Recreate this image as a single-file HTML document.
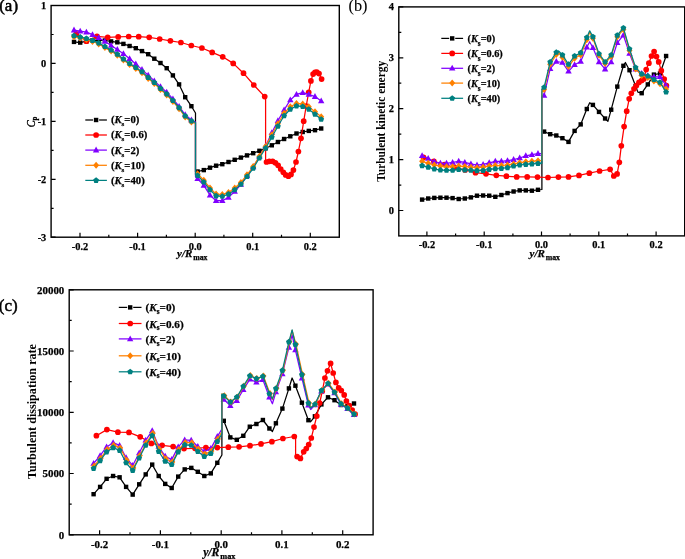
<!DOCTYPE html><html><head><meta charset="utf-8"><title>chart</title><style>
html,body{margin:0;padding:0;background:#fff;}svg{display:block;will-change:transform;}
text{font-family:"Liberation Serif",serif;fill:#000;}
.tk,.lg{font-weight:bold;stroke:#000;stroke-width:0.25px;}.bi{font-weight:bold;font-style:italic;stroke:#000;stroke-width:0.25px;}.yt{font-weight:bold;}.pl{font-size:17px;stroke:#000;stroke-width:0.5px;}
</style></head><body>
<svg width="685" height="559" viewBox="0 0 685 559">
<rect width="685" height="559" fill="#fff"/>
<polyline points="74,41.9 80.2,42.6 86.4,41.2 92.5,40.3 98.7,40.2 104.9,40.5 111.1,41.4 117.3,42.3 123.4,43.9 129.6,46 135.8,48.2 142,51.1 148.2,54.2 154.3,58.7 160.5,63 166.7,68.2 172.9,75.4 179.1,84.4 185.2,97.2 191.4,106.2 195.5,113 195.5,172 197.6,171.5 203.8,170.1 210,167.7 216.1,165.7 222.3,164.2 228.5,162 234.7,159.8 240.9,157.6 247,155.4 253.2,153.2 259.4,150.8 265.6,148.2 271.8,145.3 277.9,142 284.1,139 290.3,136.3 296.5,133.5 302.7,132 308.8,130.9 315,130.2 321.2,128.5" fill="none" stroke="#000000" stroke-width="1.25" stroke-linejoin="round"/>
<rect x="71.8" y="39.7" width="4.4" height="4.4" fill="#000000"/><rect x="78" y="40.4" width="4.4" height="4.4" fill="#000000"/><rect x="84.2" y="39" width="4.4" height="4.4" fill="#000000"/><rect x="90.3" y="38.1" width="4.4" height="4.4" fill="#000000"/><rect x="96.5" y="38" width="4.4" height="4.4" fill="#000000"/><rect x="102.7" y="38.3" width="4.4" height="4.4" fill="#000000"/><rect x="108.9" y="39.2" width="4.4" height="4.4" fill="#000000"/><rect x="115.1" y="40.1" width="4.4" height="4.4" fill="#000000"/><rect x="121.2" y="41.7" width="4.4" height="4.4" fill="#000000"/><rect x="127.4" y="43.8" width="4.4" height="4.4" fill="#000000"/><rect x="133.6" y="46" width="4.4" height="4.4" fill="#000000"/><rect x="139.8" y="48.9" width="4.4" height="4.4" fill="#000000"/><rect x="146" y="52" width="4.4" height="4.4" fill="#000000"/><rect x="152.1" y="56.5" width="4.4" height="4.4" fill="#000000"/><rect x="158.3" y="60.8" width="4.4" height="4.4" fill="#000000"/><rect x="164.5" y="66" width="4.4" height="4.4" fill="#000000"/><rect x="170.7" y="73.2" width="4.4" height="4.4" fill="#000000"/><rect x="176.9" y="82.2" width="4.4" height="4.4" fill="#000000"/><rect x="183" y="95" width="4.4" height="4.4" fill="#000000"/><rect x="189.2" y="104" width="4.4" height="4.4" fill="#000000"/><rect x="195.4" y="169.3" width="4.4" height="4.4" fill="#000000"/><rect x="201.6" y="167.9" width="4.4" height="4.4" fill="#000000"/><rect x="207.8" y="165.5" width="4.4" height="4.4" fill="#000000"/><rect x="213.9" y="163.5" width="4.4" height="4.4" fill="#000000"/><rect x="220.1" y="162" width="4.4" height="4.4" fill="#000000"/><rect x="226.3" y="159.8" width="4.4" height="4.4" fill="#000000"/><rect x="232.5" y="157.6" width="4.4" height="4.4" fill="#000000"/><rect x="238.7" y="155.4" width="4.4" height="4.4" fill="#000000"/><rect x="244.8" y="153.2" width="4.4" height="4.4" fill="#000000"/><rect x="251" y="151" width="4.4" height="4.4" fill="#000000"/><rect x="257.2" y="148.6" width="4.4" height="4.4" fill="#000000"/><rect x="263.4" y="146" width="4.4" height="4.4" fill="#000000"/><rect x="269.6" y="143.1" width="4.4" height="4.4" fill="#000000"/><rect x="275.7" y="139.8" width="4.4" height="4.4" fill="#000000"/><rect x="281.9" y="136.8" width="4.4" height="4.4" fill="#000000"/><rect x="288.1" y="134.1" width="4.4" height="4.4" fill="#000000"/><rect x="294.3" y="131.3" width="4.4" height="4.4" fill="#000000"/><rect x="300.5" y="129.8" width="4.4" height="4.4" fill="#000000"/><rect x="306.6" y="128.7" width="4.4" height="4.4" fill="#000000"/><rect x="312.8" y="128" width="4.4" height="4.4" fill="#000000"/><rect x="319" y="126.3" width="4.4" height="4.4" fill="#000000"/>
<polyline points="76.4,33.8 86.5,41.2 97,36.4 107.7,37.3 118.2,36.9 128.7,36.5 138.7,36.7 149.2,37.3 159.7,39 170.4,40.8 180.9,42.5 191.3,45.5 201.9,48 212.2,52.4 222.7,56.8 233.2,63.4 243.5,73.2 253.8,85 264.7,96.6 265.6,97.5 265.6,161.5 266.5,162 269.3,161.3 272.6,161.3 275.4,162.8 278.1,165.3 280.7,169 283.3,172.3 285.7,174.9 288.4,176.2 291,174.4 293.4,170.1 296,162 298.4,151.5 301,138.3 303.7,121.2 306.2,106 308.7,92.3 310.9,80.9 313.1,74.1 315,72.3 316.8,72.1 319,73.6 321.6,79.1" fill="none" stroke="#ff0000" stroke-width="1.25" stroke-linejoin="round"/>
<circle cx="76.4" cy="33.8" r="2.85" fill="#ff0000"/><circle cx="86.5" cy="41.2" r="2.85" fill="#ff0000"/><circle cx="97" cy="36.4" r="2.85" fill="#ff0000"/><circle cx="107.7" cy="37.3" r="2.85" fill="#ff0000"/><circle cx="118.2" cy="36.9" r="2.85" fill="#ff0000"/><circle cx="128.7" cy="36.5" r="2.85" fill="#ff0000"/><circle cx="138.7" cy="36.7" r="2.85" fill="#ff0000"/><circle cx="149.2" cy="37.3" r="2.85" fill="#ff0000"/><circle cx="159.7" cy="39" r="2.85" fill="#ff0000"/><circle cx="170.4" cy="40.8" r="2.85" fill="#ff0000"/><circle cx="180.9" cy="42.5" r="2.85" fill="#ff0000"/><circle cx="191.3" cy="45.5" r="2.85" fill="#ff0000"/><circle cx="201.9" cy="48" r="2.85" fill="#ff0000"/><circle cx="212.2" cy="52.4" r="2.85" fill="#ff0000"/><circle cx="222.7" cy="56.8" r="2.85" fill="#ff0000"/><circle cx="233.2" cy="63.4" r="2.85" fill="#ff0000"/><circle cx="243.5" cy="73.2" r="2.85" fill="#ff0000"/><circle cx="253.8" cy="85" r="2.85" fill="#ff0000"/><circle cx="264.7" cy="96.6" r="2.85" fill="#ff0000"/><circle cx="266.5" cy="162" r="2.85" fill="#ff0000"/><circle cx="269.3" cy="161.3" r="2.85" fill="#ff0000"/><circle cx="272.6" cy="161.3" r="2.85" fill="#ff0000"/><circle cx="275.4" cy="162.8" r="2.85" fill="#ff0000"/><circle cx="278.1" cy="165.3" r="2.85" fill="#ff0000"/><circle cx="280.7" cy="169" r="2.85" fill="#ff0000"/><circle cx="283.3" cy="172.3" r="2.85" fill="#ff0000"/><circle cx="285.7" cy="174.9" r="2.85" fill="#ff0000"/><circle cx="288.4" cy="176.2" r="2.85" fill="#ff0000"/><circle cx="291" cy="174.4" r="2.85" fill="#ff0000"/><circle cx="293.4" cy="170.1" r="2.85" fill="#ff0000"/><circle cx="296" cy="162" r="2.85" fill="#ff0000"/><circle cx="298.4" cy="151.5" r="2.85" fill="#ff0000"/><circle cx="301" cy="138.3" r="2.85" fill="#ff0000"/><circle cx="303.7" cy="121.2" r="2.85" fill="#ff0000"/><circle cx="306.2" cy="106" r="2.85" fill="#ff0000"/><circle cx="308.7" cy="92.3" r="2.85" fill="#ff0000"/><circle cx="310.9" cy="80.9" r="2.85" fill="#ff0000"/><circle cx="313.1" cy="74.1" r="2.85" fill="#ff0000"/><circle cx="315" cy="72.3" r="2.85" fill="#ff0000"/><circle cx="316.8" cy="72.1" r="2.85" fill="#ff0000"/><circle cx="319" cy="73.6" r="2.85" fill="#ff0000"/><circle cx="321.6" cy="79.1" r="2.85" fill="#ff0000"/>
<polyline points="74,30.1 80.2,31.2 86.4,32.2 92.5,34.7 98.7,37.8 104.9,41.5 111.1,45.4 117.3,49.5 123.4,53.8 129.6,58.7 135.8,63.9 142,69.6 148.2,75.2 154.3,80.9 160.5,86.7 166.7,92.2 172.9,98.9 179.1,106.4 185.2,114.8 191.4,120 195.5,122 195.5,177 197.6,178.8 203.8,185.4 210,195.2 216.1,200.7 222.3,200.7 228.5,197.4 234.7,191.5 240.9,184.5 247,176 253.2,167 259.4,156.5 265.6,146 271.8,132.8 277.9,120.8 284.1,109.9 290.3,100 296.5,94.4 302.7,92.7 308.8,94.4 315,96.6 321.2,101" fill="none" stroke="#8000ff" stroke-width="1.25" stroke-linejoin="round"/>
<polygon points="74,26.6 70.8,32.4 77.2,32.4" fill="#8000ff"/><polygon points="80.2,27.7 77,33.5 83.4,33.5" fill="#8000ff"/><polygon points="86.4,28.7 83.2,34.5 89.6,34.5" fill="#8000ff"/><polygon points="92.5,31.2 89.3,37 95.7,37" fill="#8000ff"/><polygon points="98.7,34.3 95.5,40.1 101.9,40.1" fill="#8000ff"/><polygon points="104.9,38 101.7,43.8 108.1,43.8" fill="#8000ff"/><polygon points="111.1,41.9 107.9,47.7 114.3,47.7" fill="#8000ff"/><polygon points="117.3,46 114.1,51.8 120.5,51.8" fill="#8000ff"/><polygon points="123.4,50.3 120.2,56.1 126.6,56.1" fill="#8000ff"/><polygon points="129.6,55.2 126.4,61 132.8,61" fill="#8000ff"/><polygon points="135.8,60.4 132.6,66.2 139,66.2" fill="#8000ff"/><polygon points="142,66.1 138.8,71.9 145.2,71.9" fill="#8000ff"/><polygon points="148.2,71.7 145,77.5 151.4,77.5" fill="#8000ff"/><polygon points="154.3,77.4 151.1,83.2 157.5,83.2" fill="#8000ff"/><polygon points="160.5,83.2 157.3,89 163.7,89" fill="#8000ff"/><polygon points="166.7,88.7 163.5,94.5 169.9,94.5" fill="#8000ff"/><polygon points="172.9,95.4 169.7,101.2 176.1,101.2" fill="#8000ff"/><polygon points="179.1,102.9 175.9,108.7 182.3,108.7" fill="#8000ff"/><polygon points="185.2,111.3 182,117.1 188.4,117.1" fill="#8000ff"/><polygon points="191.4,116.5 188.2,122.3 194.6,122.3" fill="#8000ff"/><polygon points="197.6,175.3 194.4,181.1 200.8,181.1" fill="#8000ff"/><polygon points="203.8,181.9 200.6,187.7 207,187.7" fill="#8000ff"/><polygon points="210,191.7 206.8,197.5 213.2,197.5" fill="#8000ff"/><polygon points="216.1,197.2 212.9,203 219.3,203" fill="#8000ff"/><polygon points="222.3,197.2 219.1,203 225.5,203" fill="#8000ff"/><polygon points="228.5,193.9 225.3,199.7 231.7,199.7" fill="#8000ff"/><polygon points="234.7,188 231.5,193.8 237.9,193.8" fill="#8000ff"/><polygon points="240.9,181 237.7,186.8 244.1,186.8" fill="#8000ff"/><polygon points="247,172.5 243.8,178.3 250.2,178.3" fill="#8000ff"/><polygon points="253.2,163.5 250,169.3 256.4,169.3" fill="#8000ff"/><polygon points="259.4,153 256.2,158.8 262.6,158.8" fill="#8000ff"/><polygon points="265.6,142.5 262.4,148.3 268.8,148.3" fill="#8000ff"/><polygon points="271.8,129.3 268.6,135.1 275,135.1" fill="#8000ff"/><polygon points="277.9,117.3 274.7,123.1 281.1,123.1" fill="#8000ff"/><polygon points="284.1,106.4 280.9,112.2 287.3,112.2" fill="#8000ff"/><polygon points="290.3,96.5 287.1,102.3 293.5,102.3" fill="#8000ff"/><polygon points="296.5,90.9 293.3,96.7 299.7,96.7" fill="#8000ff"/><polygon points="302.7,89.2 299.5,95 305.9,95" fill="#8000ff"/><polygon points="308.8,90.9 305.6,96.7 312,96.7" fill="#8000ff"/><polygon points="315,93.1 311.8,98.9 318.2,98.9" fill="#8000ff"/><polygon points="321.2,97.5 318,103.3 324.4,103.3" fill="#8000ff"/>
<polyline points="74,36.7 80.2,38.1 86.4,39.4 92.5,41.4 98.7,43.9 104.9,47.6 111.1,51.1 117.3,55.2 123.4,59.9 129.6,64.5 135.8,68.6 142,72.7 148.2,78.4 154.3,83.4 160.5,89.5 166.7,94.9 172.9,101.5 179.1,108.7 185.2,116.9 191.4,122 195.5,123.5 195.5,172.2 197.6,173.7 203.8,180.3 210,188 216.1,194.1 222.3,194.5 228.5,192.4 234.7,188 240.9,182.5 247,174.8 253.2,166.5 259.4,156.2 265.6,146.4 271.8,134.7 277.9,123.8 284.1,113.3 290.3,106.7 296.5,103.4 302.7,104.1 308.8,106.7 315,111.7 321.2,116.8" fill="none" stroke="#ff8000" stroke-width="1.25" stroke-linejoin="round"/>
<polygon points="74,33.2 77,36.7 74,40.2 71,36.7" fill="#ff8000"/><polygon points="80.2,34.6 83.2,38.1 80.2,41.6 77.2,38.1" fill="#ff8000"/><polygon points="86.4,35.9 89.4,39.4 86.4,42.9 83.4,39.4" fill="#ff8000"/><polygon points="92.5,37.9 95.5,41.4 92.5,44.9 89.5,41.4" fill="#ff8000"/><polygon points="98.7,40.4 101.7,43.9 98.7,47.4 95.7,43.9" fill="#ff8000"/><polygon points="104.9,44.1 107.9,47.6 104.9,51.1 101.9,47.6" fill="#ff8000"/><polygon points="111.1,47.6 114.1,51.1 111.1,54.6 108.1,51.1" fill="#ff8000"/><polygon points="117.3,51.7 120.3,55.2 117.3,58.7 114.3,55.2" fill="#ff8000"/><polygon points="123.4,56.4 126.4,59.9 123.4,63.4 120.4,59.9" fill="#ff8000"/><polygon points="129.6,61 132.6,64.5 129.6,68 126.6,64.5" fill="#ff8000"/><polygon points="135.8,65.1 138.8,68.6 135.8,72.1 132.8,68.6" fill="#ff8000"/><polygon points="142,69.2 145,72.7 142,76.2 139,72.7" fill="#ff8000"/><polygon points="148.2,74.9 151.2,78.4 148.2,81.9 145.2,78.4" fill="#ff8000"/><polygon points="154.3,79.9 157.3,83.4 154.3,86.9 151.3,83.4" fill="#ff8000"/><polygon points="160.5,86 163.5,89.5 160.5,93 157.5,89.5" fill="#ff8000"/><polygon points="166.7,91.4 169.7,94.9 166.7,98.4 163.7,94.9" fill="#ff8000"/><polygon points="172.9,98 175.9,101.5 172.9,105 169.9,101.5" fill="#ff8000"/><polygon points="179.1,105.2 182.1,108.7 179.1,112.2 176.1,108.7" fill="#ff8000"/><polygon points="185.2,113.4 188.2,116.9 185.2,120.4 182.2,116.9" fill="#ff8000"/><polygon points="191.4,118.5 194.4,122 191.4,125.5 188.4,122" fill="#ff8000"/><polygon points="197.6,170.2 200.6,173.7 197.6,177.2 194.6,173.7" fill="#ff8000"/><polygon points="203.8,176.8 206.8,180.3 203.8,183.8 200.8,180.3" fill="#ff8000"/><polygon points="210,184.5 213,188 210,191.5 207,188" fill="#ff8000"/><polygon points="216.1,190.6 219.1,194.1 216.1,197.6 213.1,194.1" fill="#ff8000"/><polygon points="222.3,191 225.3,194.5 222.3,198 219.3,194.5" fill="#ff8000"/><polygon points="228.5,188.9 231.5,192.4 228.5,195.9 225.5,192.4" fill="#ff8000"/><polygon points="234.7,184.5 237.7,188 234.7,191.5 231.7,188" fill="#ff8000"/><polygon points="240.9,179 243.9,182.5 240.9,186 237.9,182.5" fill="#ff8000"/><polygon points="247,171.3 250,174.8 247,178.3 244,174.8" fill="#ff8000"/><polygon points="253.2,163 256.2,166.5 253.2,170 250.2,166.5" fill="#ff8000"/><polygon points="259.4,152.7 262.4,156.2 259.4,159.7 256.4,156.2" fill="#ff8000"/><polygon points="265.6,142.9 268.6,146.4 265.6,149.9 262.6,146.4" fill="#ff8000"/><polygon points="271.8,131.2 274.8,134.7 271.8,138.2 268.8,134.7" fill="#ff8000"/><polygon points="277.9,120.3 280.9,123.8 277.9,127.3 274.9,123.8" fill="#ff8000"/><polygon points="284.1,109.8 287.1,113.3 284.1,116.8 281.1,113.3" fill="#ff8000"/><polygon points="290.3,103.2 293.3,106.7 290.3,110.2 287.3,106.7" fill="#ff8000"/><polygon points="296.5,99.9 299.5,103.4 296.5,106.9 293.5,103.4" fill="#ff8000"/><polygon points="302.7,100.6 305.7,104.1 302.7,107.6 299.7,104.1" fill="#ff8000"/><polygon points="308.8,103.2 311.8,106.7 308.8,110.2 305.8,106.7" fill="#ff8000"/><polygon points="315,108.2 318,111.7 315,115.2 312,111.7" fill="#ff8000"/><polygon points="321.2,113.3 324.2,116.8 321.2,120.3 318.2,116.8" fill="#ff8000"/>
<polyline points="74,35.7 80.2,37.1 86.4,38.4 92.5,40.4 98.7,42.9 104.9,46.6 111.1,50.1 117.3,54.2 123.4,58.9 129.6,63.5 135.8,67.6 142,71.7 148.2,77.4 154.3,82.4 160.5,88.5 166.7,93.9 172.9,100.5 179.1,107.7 185.2,115.9 191.4,121 195.5,122.5 195.5,174 197.6,175.5 203.8,182.1 210,189.8 216.1,195.9 222.3,196.3 228.5,194.2 234.7,189.8 240.9,184.3 247,176.6 253.2,168.3 259.4,158 265.6,148.2 271.8,137.2 277.9,126.3 284.1,115.8 290.3,109.2 296.5,105.9 302.7,106.6 308.8,109.2 315,114.2 321.2,119.3" fill="none" stroke="#008080" stroke-width="1.25" stroke-linejoin="round"/>
<polygon points="74,32.7 76.9,34.8 75.8,38.2 72.2,38.2 71.1,34.8" fill="#008080"/><polygon points="80.2,34.1 83.1,36.2 82,39.6 78.4,39.6 77.3,36.2" fill="#008080"/><polygon points="86.4,35.4 89.3,37.5 88.2,40.9 84.6,40.9 83.5,37.5" fill="#008080"/><polygon points="92.5,37.4 95.4,39.5 94.3,42.9 90.7,42.9 89.6,39.5" fill="#008080"/><polygon points="98.7,39.9 101.6,42 100.5,45.4 96.9,45.4 95.8,42" fill="#008080"/><polygon points="104.9,43.6 107.8,45.7 106.7,49.1 103.1,49.1 102,45.7" fill="#008080"/><polygon points="111.1,47.1 114,49.2 112.9,52.6 109.3,52.6 108.2,49.2" fill="#008080"/><polygon points="117.3,51.2 120.2,53.3 119.1,56.7 115.5,56.7 114.4,53.3" fill="#008080"/><polygon points="123.4,55.9 126.3,58 125.2,61.4 121.6,61.4 120.5,58" fill="#008080"/><polygon points="129.6,60.5 132.5,62.6 131.4,66 127.8,66 126.7,62.6" fill="#008080"/><polygon points="135.8,64.5 138.7,66.7 137.6,70.1 134,70.1 132.9,66.7" fill="#008080"/><polygon points="142,68.7 144.9,70.8 143.8,74.2 140.2,74.2 139.1,70.8" fill="#008080"/><polygon points="148.2,74.4 151.1,76.5 150,79.9 146.4,79.9 145.3,76.5" fill="#008080"/><polygon points="154.3,79.4 157.2,81.5 156.1,84.9 152.5,84.9 151.4,81.5" fill="#008080"/><polygon points="160.5,85.5 163.4,87.6 162.3,91 158.7,91 157.6,87.6" fill="#008080"/><polygon points="166.7,90.9 169.6,93 168.5,96.4 164.9,96.4 163.8,93" fill="#008080"/><polygon points="172.9,97.5 175.8,99.6 174.7,103 171.1,103 170,99.6" fill="#008080"/><polygon points="179.1,104.7 182,106.8 180.9,110.2 177.3,110.2 176.2,106.8" fill="#008080"/><polygon points="185.2,112.9 188.1,115 187,118.4 183.4,118.4 182.3,115" fill="#008080"/><polygon points="191.4,118 194.3,120.1 193.2,123.5 189.6,123.5 188.5,120.1" fill="#008080"/><polygon points="197.6,172.4 200.5,174.6 199.4,178 195.8,178 194.7,174.6" fill="#008080"/><polygon points="203.8,179 206.7,181.2 205.6,184.6 202,184.6 200.9,181.2" fill="#008080"/><polygon points="210,186.8 212.9,188.9 211.8,192.3 208.2,192.3 207.1,188.9" fill="#008080"/><polygon points="216.1,192.8 219,195 217.9,198.4 214.3,198.4 213.2,195" fill="#008080"/><polygon points="222.3,193.2 225.2,195.4 224.1,198.8 220.5,198.8 219.4,195.4" fill="#008080"/><polygon points="228.5,191.1 231.4,193.3 230.3,196.7 226.7,196.7 225.6,193.3" fill="#008080"/><polygon points="234.7,186.8 237.6,188.9 236.5,192.3 232.9,192.3 231.8,188.9" fill="#008080"/><polygon points="240.9,181.2 243.8,183.4 242.7,186.8 239.1,186.8 238,183.4" fill="#008080"/><polygon points="247,173.5 249.9,175.7 248.8,179.1 245.2,179.1 244.1,175.7" fill="#008080"/><polygon points="253.2,165.2 256.1,167.4 255,170.8 251.4,170.8 250.3,167.4" fill="#008080"/><polygon points="259.4,154.9 262.3,157.1 261.2,160.5 257.6,160.5 256.5,157.1" fill="#008080"/><polygon points="265.6,145.1 268.5,147.3 267.4,150.7 263.8,150.7 262.7,147.3" fill="#008080"/><polygon points="271.8,134.1 274.7,136.3 273.6,139.7 270,139.7 268.9,136.3" fill="#008080"/><polygon points="277.9,123.2 280.8,125.4 279.7,128.8 276.1,128.8 275,125.4" fill="#008080"/><polygon points="284.1,112.8 287,114.9 285.9,118.3 282.3,118.3 281.2,114.9" fill="#008080"/><polygon points="290.3,106.2 293.2,108.3 292.1,111.7 288.5,111.7 287.4,108.3" fill="#008080"/><polygon points="296.5,102.9 299.4,105 298.3,108.4 294.7,108.4 293.6,105" fill="#008080"/><polygon points="302.7,103.5 305.6,105.7 304.5,109.1 300.9,109.1 299.8,105.7" fill="#008080"/><polygon points="308.8,106.2 311.7,108.3 310.6,111.7 307,111.7 305.9,108.3" fill="#008080"/><polygon points="315,111.2 317.9,113.3 316.8,116.7 313.2,116.7 312.1,113.3" fill="#008080"/><polygon points="321.2,116.2 324.1,118.4 323,121.8 319.4,121.8 318.3,118.4" fill="#008080"/>
<rect x="51.1" y="5.5" width="288.2" height="231.7" fill="none" stroke="#000" stroke-width="1.4"/>
<path d="M80,237.2v-4.5M137.6,237.2v-4.5M195.2,237.2v-4.5M252.7,237.2v-4.5M310.3,237.2v-4.5M108.8,237.2v-2.5M166.4,237.2v-2.5M223.9,237.2v-2.5M281.5,237.2v-2.5M51.1,5.5h4.5M51.1,63.4h4.5M51.1,121.4h4.5M51.1,179.3h4.5M51.1,237.2h4.5M51.1,34.5h2.5M51.1,92.4h2.5M51.1,150.3h2.5M51.1,208.3h2.5" stroke="#000" stroke-width="1.2" fill="none"/>
<text x="80" y="249.6" text-anchor="middle" class="tk" font-size="10.4">-0.2</text>
<text x="137.6" y="249.6" text-anchor="middle" class="tk" font-size="10.4">-0.1</text>
<text x="195.2" y="249.6" text-anchor="middle" class="tk" font-size="10.4">0.0</text>
<text x="252.7" y="249.6" text-anchor="middle" class="tk" font-size="10.4">0.1</text>
<text x="310.3" y="249.6" text-anchor="middle" class="tk" font-size="10.4">0.2</text>
<text x="46.3" y="8.9" text-anchor="end" class="tk" font-size="10.4">1</text>
<text x="46.3" y="66.8" text-anchor="end" class="tk" font-size="10.4">0</text>
<text x="46.3" y="124.8" text-anchor="end" class="tk" font-size="10.4">-1</text>
<text x="46.3" y="182.7" text-anchor="end" class="tk" font-size="10.4">-2</text>
<text x="46.3" y="240.6" text-anchor="end" class="tk" font-size="10.4">-3</text>
<line x1="85.3" y1="120" x2="106.9" y2="120" stroke="#000000" stroke-width="1.25"/>
<rect x="93.1" y="118.5" width="6" height="3" fill="#fff"/>
<rect x="93.9" y="117.8" width="4.4" height="4.4" fill="#000000"/>
<text x="110.9" y="123.4" class="lg" font-size="10.7">(<tspan class="bi">K</tspan><tspan font-size="7.1" dy="3">s</tspan><tspan dy="-3">=0)</tspan></text>
<line x1="85.3" y1="135" x2="106.9" y2="135" stroke="#ff0000" stroke-width="1.25"/>
<circle cx="96.1" cy="135" r="2.85" fill="#ff0000"/>
<text x="110.9" y="138.4" class="lg" font-size="10.7">(<tspan class="bi">K</tspan><tspan font-size="7.1" dy="3">s</tspan><tspan dy="-3">=0.6)</tspan></text>
<line x1="85.3" y1="150.1" x2="106.9" y2="150.1" stroke="#8000ff" stroke-width="1.25"/>
<polygon points="96.1,146.6 92.9,152.4 99.3,152.4" fill="#8000ff"/>
<text x="110.9" y="153.5" class="lg" font-size="10.7">(<tspan class="bi">K</tspan><tspan font-size="7.1" dy="3">s</tspan><tspan dy="-3">=2)</tspan></text>
<line x1="85.3" y1="165.3" x2="106.9" y2="165.3" stroke="#ff8000" stroke-width="1.25"/>
<polygon points="96.1,161.8 99.1,165.3 96.1,168.8 93.1,165.3" fill="#ff8000"/>
<text x="110.9" y="168.7" class="lg" font-size="10.7">(<tspan class="bi">K</tspan><tspan font-size="7.1" dy="3">s</tspan><tspan dy="-3">=10)</tspan></text>
<line x1="85.3" y1="180.4" x2="106.9" y2="180.4" stroke="#008080" stroke-width="1.25"/>
<polygon points="96.1,177.3 99,179.5 97.9,182.9 94.3,182.9 93.2,179.5" fill="#008080"/>
<text x="110.9" y="183.8" class="lg" font-size="10.7">(<tspan class="bi">K</tspan><tspan font-size="7.1" dy="3">s</tspan><tspan dy="-3">=40)</tspan></text>
<text x="177.1" y="256.5" class="bi" font-size="11"><tspan>y/R</tspan><tspan class="lg" font-style="normal" font-size="7.8" dx="0.8" dy="3.2">max</tspan></text>
<text transform="translate(35,127.2) rotate(-90)" font-style="italic" font-size="12" stroke="#000" stroke-width="0.3" textLength="10.6" lengthAdjust="spacingAndGlyphs">C<tspan font-size="8" dy="1.8" font-style="normal" font-weight="bold">p</tspan></text>
<text x="-0.8" y="11.4" class="pl">(a)</text>
<polyline points="422.1,199.6 428.2,198.5 434.3,197.9 440.4,197.7 446.5,197.7 452.6,198.1 458.7,199 464.8,198.5 470.9,197.4 477,195.7 483.1,195.5 489.2,195.7 495.3,196.8 501.4,195 507.5,193.1 513.6,191.5 519.7,190.4 525.8,190.4 531.9,190.7 538,189.8 541.9,189.5 541.9,131 544.1,131.6 550.2,134.2 556.3,135.5 562.4,138.2 568.5,141.9 574.6,130.9 580.7,124.4 586.8,109 589.7,102.7 592.9,104.9 599,111.9 605.1,118.5 607.9,121.3 611.2,109.7 617.3,86.6 623.4,65.8 625.4,62.5 629.5,70.2 635.6,86 637.9,92.1 641.7,93.2 647.8,84.4 653.9,74.6 660,73.5 666.1,56" fill="none" stroke="#000000" stroke-width="1.25" stroke-linejoin="round"/>
<rect x="419.9" y="197.4" width="4.4" height="4.4" fill="#000000"/><rect x="426" y="196.3" width="4.4" height="4.4" fill="#000000"/><rect x="432.1" y="195.7" width="4.4" height="4.4" fill="#000000"/><rect x="438.2" y="195.5" width="4.4" height="4.4" fill="#000000"/><rect x="444.3" y="195.5" width="4.4" height="4.4" fill="#000000"/><rect x="450.4" y="195.9" width="4.4" height="4.4" fill="#000000"/><rect x="456.5" y="196.8" width="4.4" height="4.4" fill="#000000"/><rect x="462.6" y="196.3" width="4.4" height="4.4" fill="#000000"/><rect x="468.7" y="195.2" width="4.4" height="4.4" fill="#000000"/><rect x="474.8" y="193.5" width="4.4" height="4.4" fill="#000000"/><rect x="480.9" y="193.3" width="4.4" height="4.4" fill="#000000"/><rect x="487" y="193.5" width="4.4" height="4.4" fill="#000000"/><rect x="493.1" y="194.6" width="4.4" height="4.4" fill="#000000"/><rect x="499.2" y="192.8" width="4.4" height="4.4" fill="#000000"/><rect x="505.3" y="190.9" width="4.4" height="4.4" fill="#000000"/><rect x="511.4" y="189.3" width="4.4" height="4.4" fill="#000000"/><rect x="517.5" y="188.2" width="4.4" height="4.4" fill="#000000"/><rect x="523.6" y="188.2" width="4.4" height="4.4" fill="#000000"/><rect x="529.7" y="188.5" width="4.4" height="4.4" fill="#000000"/><rect x="535.8" y="187.6" width="4.4" height="4.4" fill="#000000"/><rect x="541.9" y="129.4" width="4.4" height="4.4" fill="#000000"/><rect x="548" y="132" width="4.4" height="4.4" fill="#000000"/><rect x="554.1" y="133.3" width="4.4" height="4.4" fill="#000000"/><rect x="560.2" y="136" width="4.4" height="4.4" fill="#000000"/><rect x="566.3" y="139.7" width="4.4" height="4.4" fill="#000000"/><rect x="572.4" y="128.7" width="4.4" height="4.4" fill="#000000"/><rect x="578.5" y="122.2" width="4.4" height="4.4" fill="#000000"/><rect x="584.6" y="106.8" width="4.4" height="4.4" fill="#000000"/><rect x="590.7" y="102.7" width="4.4" height="4.4" fill="#000000"/><rect x="596.8" y="109.7" width="4.4" height="4.4" fill="#000000"/><rect x="602.9" y="116.3" width="4.4" height="4.4" fill="#000000"/><rect x="609" y="107.5" width="4.4" height="4.4" fill="#000000"/><rect x="615.1" y="84.4" width="4.4" height="4.4" fill="#000000"/><rect x="621.2" y="63.6" width="4.4" height="4.4" fill="#000000"/><rect x="627.3" y="68" width="4.4" height="4.4" fill="#000000"/><rect x="633.4" y="83.8" width="4.4" height="4.4" fill="#000000"/><rect x="639.5" y="91" width="4.4" height="4.4" fill="#000000"/><rect x="645.6" y="82.2" width="4.4" height="4.4" fill="#000000"/><rect x="651.7" y="72.4" width="4.4" height="4.4" fill="#000000"/><rect x="657.8" y="71.3" width="4.4" height="4.4" fill="#000000"/><rect x="663.9" y="53.8" width="4.4" height="4.4" fill="#000000"/>
<polyline points="423.5,157.4 433.9,161.3 444.3,164.5 454.7,167.3 465.1,170 475.5,172.7 486,173.8 496.3,175.3 506.4,176.2 516.7,176.9 527.2,176.9 537.5,177.1 548,177.5 558.4,177.1 568.5,176.9 579,175.4 589.3,173.2 599.6,171 610.1,169.3 613.8,176 617.1,173.9 619.3,162.3 621.3,145.8 624.1,126.6 626.7,111.2 629.2,98.8 631.3,93.3 634,88.8 636.4,85.5 639,82.3 641.6,80.5 643.8,79 646.2,69.6 648.9,63.2 651.5,56 654.1,51.6 656.5,56.6 658.7,61.9 661.3,70.7 664.2,79 666.4,85.5" fill="none" stroke="#ff0000" stroke-width="1.25" stroke-linejoin="round"/>
<circle cx="423.5" cy="157.4" r="2.85" fill="#ff0000"/><circle cx="433.9" cy="161.3" r="2.85" fill="#ff0000"/><circle cx="444.3" cy="164.5" r="2.85" fill="#ff0000"/><circle cx="454.7" cy="167.3" r="2.85" fill="#ff0000"/><circle cx="465.1" cy="170" r="2.85" fill="#ff0000"/><circle cx="475.5" cy="172.7" r="2.85" fill="#ff0000"/><circle cx="486" cy="173.8" r="2.85" fill="#ff0000"/><circle cx="496.3" cy="175.3" r="2.85" fill="#ff0000"/><circle cx="506.4" cy="176.2" r="2.85" fill="#ff0000"/><circle cx="516.7" cy="176.9" r="2.85" fill="#ff0000"/><circle cx="527.2" cy="176.9" r="2.85" fill="#ff0000"/><circle cx="537.5" cy="177.1" r="2.85" fill="#ff0000"/><circle cx="548" cy="177.5" r="2.85" fill="#ff0000"/><circle cx="558.4" cy="177.1" r="2.85" fill="#ff0000"/><circle cx="568.5" cy="176.9" r="2.85" fill="#ff0000"/><circle cx="579" cy="175.4" r="2.85" fill="#ff0000"/><circle cx="589.3" cy="173.2" r="2.85" fill="#ff0000"/><circle cx="599.6" cy="171" r="2.85" fill="#ff0000"/><circle cx="610.1" cy="169.3" r="2.85" fill="#ff0000"/><circle cx="613.8" cy="176" r="2.85" fill="#ff0000"/><circle cx="617.1" cy="173.9" r="2.85" fill="#ff0000"/><circle cx="619.3" cy="162.3" r="2.85" fill="#ff0000"/><circle cx="621.3" cy="145.8" r="2.85" fill="#ff0000"/><circle cx="624.1" cy="126.6" r="2.85" fill="#ff0000"/><circle cx="626.7" cy="111.2" r="2.85" fill="#ff0000"/><circle cx="629.2" cy="98.8" r="2.85" fill="#ff0000"/><circle cx="631.3" cy="93.3" r="2.85" fill="#ff0000"/><circle cx="634" cy="88.8" r="2.85" fill="#ff0000"/><circle cx="636.4" cy="85.5" r="2.85" fill="#ff0000"/><circle cx="639" cy="82.3" r="2.85" fill="#ff0000"/><circle cx="641.6" cy="80.5" r="2.85" fill="#ff0000"/><circle cx="643.8" cy="79" r="2.85" fill="#ff0000"/><circle cx="646.2" cy="69.6" r="2.85" fill="#ff0000"/><circle cx="648.9" cy="63.2" r="2.85" fill="#ff0000"/><circle cx="651.5" cy="56" r="2.85" fill="#ff0000"/><circle cx="654.1" cy="51.6" r="2.85" fill="#ff0000"/><circle cx="656.5" cy="56.6" r="2.85" fill="#ff0000"/><circle cx="658.7" cy="61.9" r="2.85" fill="#ff0000"/><circle cx="661.3" cy="70.7" r="2.85" fill="#ff0000"/><circle cx="664.2" cy="79" r="2.85" fill="#ff0000"/><circle cx="666.4" cy="85.5" r="2.85" fill="#ff0000"/>
<polyline points="422.1,155.8 428.2,158.5 434.3,161.7 440.4,163.3 446.5,163.3 452.6,162.4 458.7,161.3 464.8,162.4 470.9,163.9 477,165 483.1,164.4 489.2,162.8 495.3,161.3 501.4,161.3 507.5,160.7 513.6,159.6 519.7,158 525.8,155.8 531.9,154.7 538,153.6 541.9,153.4 541.9,97 544.1,95.4 550.2,68.7 556.3,61.5 562.4,62.5 568.5,71.3 574.6,64.7 580.7,61.5 586.8,47.2 589.7,41.7 592.9,47.7 599,61.9 605.1,69.1 611.2,61.9 617.3,42.8 623.4,35.2 629.5,53.4 635.6,69.1 641.7,73.5 647.8,75.7 653.9,76.8 660,76.8 666.1,85.5" fill="none" stroke="#8000ff" stroke-width="1.25" stroke-linejoin="round"/>
<polygon points="422.1,152.3 418.9,158.1 425.3,158.1" fill="#8000ff"/><polygon points="428.2,155 425,160.8 431.4,160.8" fill="#8000ff"/><polygon points="434.3,158.2 431.1,164 437.5,164" fill="#8000ff"/><polygon points="440.4,159.8 437.2,165.6 443.6,165.6" fill="#8000ff"/><polygon points="446.5,159.8 443.3,165.6 449.7,165.6" fill="#8000ff"/><polygon points="452.6,158.9 449.4,164.7 455.8,164.7" fill="#8000ff"/><polygon points="458.7,157.8 455.5,163.6 461.9,163.6" fill="#8000ff"/><polygon points="464.8,158.9 461.6,164.7 468,164.7" fill="#8000ff"/><polygon points="470.9,160.4 467.7,166.2 474.1,166.2" fill="#8000ff"/><polygon points="477,161.5 473.8,167.3 480.2,167.3" fill="#8000ff"/><polygon points="483.1,160.9 479.9,166.7 486.3,166.7" fill="#8000ff"/><polygon points="489.2,159.3 486,165.1 492.4,165.1" fill="#8000ff"/><polygon points="495.3,157.8 492.1,163.6 498.5,163.6" fill="#8000ff"/><polygon points="501.4,157.8 498.2,163.6 504.6,163.6" fill="#8000ff"/><polygon points="507.5,157.2 504.3,163 510.7,163" fill="#8000ff"/><polygon points="513.6,156.1 510.4,161.9 516.8,161.9" fill="#8000ff"/><polygon points="519.7,154.5 516.5,160.3 522.9,160.3" fill="#8000ff"/><polygon points="525.8,152.3 522.6,158.1 529,158.1" fill="#8000ff"/><polygon points="531.9,151.2 528.7,157 535.1,157" fill="#8000ff"/><polygon points="538,150.1 534.8,155.9 541.2,155.9" fill="#8000ff"/><polygon points="544.1,91.9 540.9,97.7 547.3,97.7" fill="#8000ff"/><polygon points="550.2,65.2 547,71 553.4,71" fill="#8000ff"/><polygon points="556.3,58 553.1,63.8 559.5,63.8" fill="#8000ff"/><polygon points="562.4,59 559.2,64.8 565.6,64.8" fill="#8000ff"/><polygon points="568.5,67.8 565.3,73.6 571.7,73.6" fill="#8000ff"/><polygon points="574.6,61.2 571.4,67 577.8,67" fill="#8000ff"/><polygon points="580.7,58 577.5,63.8 583.9,63.8" fill="#8000ff"/><polygon points="586.8,43.7 583.6,49.5 590,49.5" fill="#8000ff"/><polygon points="592.9,44.2 589.7,50 596.1,50" fill="#8000ff"/><polygon points="599,58.4 595.8,64.2 602.2,64.2" fill="#8000ff"/><polygon points="605.1,65.6 601.9,71.4 608.3,71.4" fill="#8000ff"/><polygon points="611.2,58.4 608,64.2 614.4,64.2" fill="#8000ff"/><polygon points="617.3,39.3 614.1,45.1 620.5,45.1" fill="#8000ff"/><polygon points="623.4,31.7 620.2,37.5 626.6,37.5" fill="#8000ff"/><polygon points="629.5,49.9 626.3,55.7 632.7,55.7" fill="#8000ff"/><polygon points="635.6,65.6 632.4,71.4 638.8,71.4" fill="#8000ff"/><polygon points="641.7,70 638.5,75.8 644.9,75.8" fill="#8000ff"/><polygon points="647.8,72.2 644.6,78 651,78" fill="#8000ff"/><polygon points="653.9,73.3 650.7,79.1 657.1,79.1" fill="#8000ff"/><polygon points="660,73.3 656.8,79.1 663.2,79.1" fill="#8000ff"/><polygon points="666.1,82 662.9,87.8 669.3,87.8" fill="#8000ff"/>
<polyline points="422.1,161.3 428.2,163.3 434.3,165 440.4,166.1 446.5,166.8 452.6,166.8 458.7,166.1 464.8,166.5 470.9,167.2 477,167.7 483.1,167.2 489.2,166.1 495.3,165.5 501.4,165.5 507.5,165 513.6,163.9 519.7,162.8 525.8,161.7 531.9,161.3 538,160.7 541.9,160.5 541.9,92 544.1,89.6 550.2,64.2 556.3,54.6 558.6,52.5 562.4,57.2 568.5,66.6 574.6,58.3 580.7,55 586.8,39.7 589.7,32.3 592.9,38.2 599,55.3 605.1,63.4 611.2,56.4 617.3,36.7 623.4,29.5 629.5,50.5 635.6,68.9 641.7,75.4 647.8,77.6 653.9,81.1 660,83.8 666.1,89" fill="none" stroke="#ff8000" stroke-width="1.25" stroke-linejoin="round"/>
<polygon points="422.1,157.8 425.1,161.3 422.1,164.8 419.1,161.3" fill="#ff8000"/><polygon points="428.2,159.8 431.2,163.3 428.2,166.8 425.2,163.3" fill="#ff8000"/><polygon points="434.3,161.5 437.3,165 434.3,168.5 431.3,165" fill="#ff8000"/><polygon points="440.4,162.6 443.4,166.1 440.4,169.6 437.4,166.1" fill="#ff8000"/><polygon points="446.5,163.3 449.5,166.8 446.5,170.3 443.5,166.8" fill="#ff8000"/><polygon points="452.6,163.3 455.6,166.8 452.6,170.3 449.6,166.8" fill="#ff8000"/><polygon points="458.7,162.6 461.7,166.1 458.7,169.6 455.7,166.1" fill="#ff8000"/><polygon points="464.8,163 467.8,166.5 464.8,170 461.8,166.5" fill="#ff8000"/><polygon points="470.9,163.7 473.9,167.2 470.9,170.7 467.9,167.2" fill="#ff8000"/><polygon points="477,164.2 480,167.7 477,171.2 474,167.7" fill="#ff8000"/><polygon points="483.1,163.7 486.1,167.2 483.1,170.7 480.1,167.2" fill="#ff8000"/><polygon points="489.2,162.6 492.2,166.1 489.2,169.6 486.2,166.1" fill="#ff8000"/><polygon points="495.3,162 498.3,165.5 495.3,169 492.3,165.5" fill="#ff8000"/><polygon points="501.4,162 504.4,165.5 501.4,169 498.4,165.5" fill="#ff8000"/><polygon points="507.5,161.5 510.5,165 507.5,168.5 504.5,165" fill="#ff8000"/><polygon points="513.6,160.4 516.6,163.9 513.6,167.4 510.6,163.9" fill="#ff8000"/><polygon points="519.7,159.3 522.7,162.8 519.7,166.3 516.7,162.8" fill="#ff8000"/><polygon points="525.8,158.2 528.8,161.7 525.8,165.2 522.8,161.7" fill="#ff8000"/><polygon points="531.9,157.8 534.9,161.3 531.9,164.8 528.9,161.3" fill="#ff8000"/><polygon points="538,157.2 541,160.7 538,164.2 535,160.7" fill="#ff8000"/><polygon points="544.1,86.1 547.1,89.6 544.1,93.1 541.1,89.6" fill="#ff8000"/><polygon points="550.2,60.7 553.2,64.2 550.2,67.7 547.2,64.2" fill="#ff8000"/><polygon points="556.3,51.1 559.3,54.6 556.3,58.1 553.3,54.6" fill="#ff8000"/><polygon points="562.4,53.7 565.4,57.2 562.4,60.7 559.4,57.2" fill="#ff8000"/><polygon points="568.5,63.1 571.5,66.6 568.5,70.1 565.5,66.6" fill="#ff8000"/><polygon points="574.6,54.8 577.6,58.3 574.6,61.8 571.6,58.3" fill="#ff8000"/><polygon points="580.7,51.5 583.7,55 580.7,58.5 577.7,55" fill="#ff8000"/><polygon points="586.8,36.2 589.8,39.7 586.8,43.2 583.8,39.7" fill="#ff8000"/><polygon points="592.9,34.7 595.9,38.2 592.9,41.7 589.9,38.2" fill="#ff8000"/><polygon points="599,51.8 602,55.3 599,58.8 596,55.3" fill="#ff8000"/><polygon points="605.1,59.9 608.1,63.4 605.1,66.9 602.1,63.4" fill="#ff8000"/><polygon points="611.2,52.9 614.2,56.4 611.2,59.9 608.2,56.4" fill="#ff8000"/><polygon points="617.3,33.2 620.3,36.7 617.3,40.2 614.3,36.7" fill="#ff8000"/><polygon points="623.4,26 626.4,29.5 623.4,33 620.4,29.5" fill="#ff8000"/><polygon points="629.5,47 632.5,50.5 629.5,54 626.5,50.5" fill="#ff8000"/><polygon points="635.6,65.4 638.6,68.9 635.6,72.4 632.6,68.9" fill="#ff8000"/><polygon points="641.7,71.9 644.7,75.4 641.7,78.9 638.7,75.4" fill="#ff8000"/><polygon points="647.8,74.1 650.8,77.6 647.8,81.1 644.8,77.6" fill="#ff8000"/><polygon points="653.9,77.6 656.9,81.1 653.9,84.6 650.9,81.1" fill="#ff8000"/><polygon points="660,80.3 663,83.8 660,87.3 657,83.8" fill="#ff8000"/><polygon points="666.1,85.5 669.1,89 666.1,92.5 663.1,89" fill="#ff8000"/>
<polyline points="422.1,165.7 428.2,167.2 434.3,169 440.4,170.1 446.5,170.3 452.6,170.3 458.7,169.4 464.8,169.9 470.9,170.3 477,170.7 483.1,170.5 489.2,169.4 495.3,168.8 501.4,168.5 507.5,167.7 513.6,166.1 519.7,165 525.8,164.4 531.9,163.9 538,163.5 541.9,163.3 541.9,89 544.1,87.3 550.2,61.9 556.3,52.3 558.6,51 562.4,54.9 568.5,64.3 574.6,56 580.7,52.7 586.8,37.4 589.7,30.8 592.9,36.7 599,53.8 605.1,61.9 611.2,54.9 617.3,35.2 623.4,28 629.5,49 635.6,67.4 641.7,73.9 647.8,76.1 653.9,79.6 660,82.3 666.1,92.1" fill="none" stroke="#008080" stroke-width="1.25" stroke-linejoin="round"/>
<polygon points="422.1,162.6 425,164.8 423.9,168.2 420.3,168.2 419.2,164.8" fill="#008080"/><polygon points="428.2,164.1 431.1,166.3 430,169.7 426.4,169.7 425.3,166.3" fill="#008080"/><polygon points="434.3,165.9 437.2,168.1 436.1,171.5 432.5,171.5 431.4,168.1" fill="#008080"/><polygon points="440.4,167 443.3,169.2 442.2,172.6 438.6,172.6 437.5,169.2" fill="#008080"/><polygon points="446.5,167.2 449.4,169.4 448.3,172.8 444.7,172.8 443.6,169.4" fill="#008080"/><polygon points="452.6,167.2 455.5,169.4 454.4,172.8 450.8,172.8 449.7,169.4" fill="#008080"/><polygon points="458.7,166.3 461.6,168.5 460.5,171.9 456.9,171.9 455.8,168.5" fill="#008080"/><polygon points="464.8,166.8 467.7,169 466.6,172.4 463,172.4 461.9,169" fill="#008080"/><polygon points="470.9,167.2 473.8,169.4 472.7,172.8 469.1,172.8 468,169.4" fill="#008080"/><polygon points="477,167.6 479.9,169.8 478.8,173.2 475.2,173.2 474.1,169.8" fill="#008080"/><polygon points="483.1,167.4 486,169.6 484.9,173 481.3,173 480.2,169.6" fill="#008080"/><polygon points="489.2,166.3 492.1,168.5 491,171.9 487.4,171.9 486.3,168.5" fill="#008080"/><polygon points="495.3,165.8 498.2,167.9 497.1,171.3 493.5,171.3 492.4,167.9" fill="#008080"/><polygon points="501.4,165.4 504.3,167.6 503.2,171 499.6,171 498.5,167.6" fill="#008080"/><polygon points="507.5,164.6 510.4,166.8 509.3,170.2 505.7,170.2 504.6,166.8" fill="#008080"/><polygon points="513.6,163 516.5,165.2 515.4,168.6 511.8,168.6 510.7,165.2" fill="#008080"/><polygon points="519.7,161.9 522.6,164.1 521.5,167.5 517.9,167.5 516.8,164.1" fill="#008080"/><polygon points="525.8,161.3 528.7,163.5 527.6,166.9 524,166.9 522.9,163.5" fill="#008080"/><polygon points="531.9,160.8 534.8,163 533.7,166.4 530.1,166.4 529,163" fill="#008080"/><polygon points="538,160.4 540.9,162.6 539.8,166 536.2,166 535.1,162.6" fill="#008080"/><polygon points="544.1,84.2 547,86.4 545.9,89.8 542.3,89.8 541.2,86.4" fill="#008080"/><polygon points="550.2,58.9 553.1,61 552,64.4 548.4,64.4 547.3,61" fill="#008080"/><polygon points="556.3,49.2 559.2,51.4 558.1,54.8 554.5,54.8 553.4,51.4" fill="#008080"/><polygon points="562.4,51.9 565.3,54 564.2,57.4 560.6,57.4 559.5,54" fill="#008080"/><polygon points="568.5,61.2 571.4,63.4 570.3,66.8 566.7,66.8 565.6,63.4" fill="#008080"/><polygon points="574.6,53 577.5,55.1 576.4,58.5 572.8,58.5 571.7,55.1" fill="#008080"/><polygon points="580.7,49.7 583.6,51.8 582.5,55.2 578.9,55.2 577.8,51.8" fill="#008080"/><polygon points="586.8,34.4 589.7,36.5 588.6,39.9 585,39.9 583.9,36.5" fill="#008080"/><polygon points="592.9,33.7 595.8,35.8 594.7,39.2 591.1,39.2 590,35.8" fill="#008080"/><polygon points="599,50.8 601.9,52.9 600.8,56.3 597.2,56.3 596.1,52.9" fill="#008080"/><polygon points="605.1,58.9 608,61 606.9,64.4 603.3,64.4 602.2,61" fill="#008080"/><polygon points="611.2,51.9 614.1,54 613,57.4 609.4,57.4 608.3,54" fill="#008080"/><polygon points="617.3,32.2 620.2,34.3 619.1,37.7 615.5,37.7 614.4,34.3" fill="#008080"/><polygon points="623.4,24.9 626.3,27.1 625.2,30.5 621.6,30.5 620.5,27.1" fill="#008080"/><polygon points="629.5,46 632.4,48.1 631.3,51.5 627.7,51.5 626.6,48.1" fill="#008080"/><polygon points="635.6,64.4 638.5,66.5 637.4,69.9 633.8,69.9 632.7,66.5" fill="#008080"/><polygon points="641.7,70.9 644.6,73 643.5,76.4 639.9,76.4 638.8,73" fill="#008080"/><polygon points="647.8,73 650.7,75.2 649.6,78.6 646,78.6 644.9,75.2" fill="#008080"/><polygon points="653.9,76.5 656.8,78.7 655.7,82.1 652.1,82.1 651,78.7" fill="#008080"/><polygon points="660,79.2 662.9,81.4 661.8,84.8 658.2,84.8 657.1,81.4" fill="#008080"/><polygon points="666.1,89 669,91.2 667.9,94.6 664.3,94.6 663.2,91.2" fill="#008080"/>
<rect x="398.8" y="6.9" width="285.9" height="229" fill="none" stroke="#000" stroke-width="1.4"/>
<path d="M426.9,235.9v-4.5M484.2,235.9v-4.5M541.5,235.9v-4.5M598.8,235.9v-4.5M656.1,235.9v-4.5M455.6,235.9v-2.5M512.9,235.9v-2.5M570.1,235.9v-2.5M627.5,235.9v-2.5M398.8,6.9h4.5M398.8,57.8h4.5M398.8,108.7h4.5M398.8,159.6h4.5M398.8,210.5h4.5M398.8,32.3h2.5M398.8,83.2h2.5M398.8,134.2h2.5M398.8,185.1h2.5" stroke="#000" stroke-width="1.2" fill="none"/>
<text x="426.9" y="248.2" text-anchor="middle" class="tk" font-size="10.4">-0.2</text>
<text x="484.2" y="248.2" text-anchor="middle" class="tk" font-size="10.4">-0.1</text>
<text x="541.5" y="248.2" text-anchor="middle" class="tk" font-size="10.4">0.0</text>
<text x="598.8" y="248.2" text-anchor="middle" class="tk" font-size="10.4">0.1</text>
<text x="656.1" y="248.2" text-anchor="middle" class="tk" font-size="10.4">0.2</text>
<text x="394" y="10.3" text-anchor="end" class="tk" font-size="10.4">4</text>
<text x="394" y="61.2" text-anchor="end" class="tk" font-size="10.4">3</text>
<text x="394" y="112.1" text-anchor="end" class="tk" font-size="10.4">2</text>
<text x="394" y="163" text-anchor="end" class="tk" font-size="10.4">1</text>
<text x="394" y="213.9" text-anchor="end" class="tk" font-size="10.4">0</text>
<line x1="441.3" y1="38.4" x2="463.1" y2="38.4" stroke="#000000" stroke-width="1.25"/>
<rect x="449.2" y="36.9" width="6" height="3" fill="#fff"/>
<rect x="450" y="36.2" width="4.4" height="4.4" fill="#000000"/>
<text x="467.5" y="42.2" class="lg" font-size="10.3">(<tspan class="bi">K</tspan><tspan font-size="7.2" dy="3.6">s</tspan><tspan dy="-3.6">=0)</tspan></text>
<line x1="441.3" y1="53.4" x2="463.1" y2="53.4" stroke="#ff0000" stroke-width="1.25"/>
<circle cx="452.2" cy="53.4" r="2.85" fill="#ff0000"/>
<text x="467.5" y="57.2" class="lg" font-size="10.3">(<tspan class="bi">K</tspan><tspan font-size="7.2" dy="3.6">s</tspan><tspan dy="-3.6">=0.6)</tspan></text>
<line x1="441.3" y1="68.3" x2="463.1" y2="68.3" stroke="#8000ff" stroke-width="1.25"/>
<polygon points="452.2,64.8 449,70.6 455.4,70.6" fill="#8000ff"/>
<text x="467.5" y="72.1" class="lg" font-size="10.3">(<tspan class="bi">K</tspan><tspan font-size="7.2" dy="3.6">s</tspan><tspan dy="-3.6">=2)</tspan></text>
<line x1="441.3" y1="83.1" x2="463.1" y2="83.1" stroke="#ff8000" stroke-width="1.25"/>
<polygon points="452.2,79.6 455.2,83.1 452.2,86.6 449.2,83.1" fill="#ff8000"/>
<text x="467.5" y="86.9" class="lg" font-size="10.3">(<tspan class="bi">K</tspan><tspan font-size="7.2" dy="3.6">s</tspan><tspan dy="-3.6">=10)</tspan></text>
<line x1="441.3" y1="98.3" x2="463.1" y2="98.3" stroke="#008080" stroke-width="1.25"/>
<polygon points="452.2,95.2 455.1,97.4 454,100.8 450.4,100.8 449.3,97.4" fill="#008080"/>
<text x="467.5" y="102.1" class="lg" font-size="10.3">(<tspan class="bi">K</tspan><tspan font-size="7.2" dy="3.6">s</tspan><tspan dy="-3.6">=40)</tspan></text>
<text x="529.6" y="256.5" class="bi" font-size="11"><tspan>y/R</tspan><tspan class="lg" font-style="normal" font-size="7.8" dx="0.8" dy="3.2">max</tspan></text>
<text transform="translate(384.8,181.8) rotate(-90)" class="yt" font-size="11.7" textLength="121" lengthAdjust="spacingAndGlyphs">Turbulent kinetic energy</text>
<text x="348.5" y="11.4" class="pl" style="stroke-width:0.1px;font-size:16.3px">(b)</text>
<polyline points="93.6,494.2 100.1,486.9 106.6,478.8 113.1,476 119.6,477.3 126.1,486.9 132.7,494.6 139.2,484.3 145.7,474.4 152.2,464.6 158.7,476 165.2,483.9 171.7,488 178.2,476.6 184.7,469.4 191.2,467.9 197.8,471.8 204.3,476 210.8,473.4 217.3,462.8 221.9,455 221.9,419 223.8,420.8 230.3,437.4 236.8,439.8 243.3,435.8 249.8,426.7 256.4,424 262.9,420 269.4,428.5 272.4,431.5 275.9,423.3 282.4,408.6 288.9,388.4 292.1,378 295.4,385.7 301.9,402.7 308.4,420.2 310.7,421.6 314.9,416.3 321.4,404.4 328,397.3 334.5,400.2 341,405 347.5,406 354,403.5" fill="none" stroke="#000000" stroke-width="1.25" stroke-linejoin="round"/>
<rect x="91.4" y="492" width="4.4" height="4.4" fill="#000000"/><rect x="97.9" y="484.7" width="4.4" height="4.4" fill="#000000"/><rect x="104.4" y="476.6" width="4.4" height="4.4" fill="#000000"/><rect x="110.9" y="473.8" width="4.4" height="4.4" fill="#000000"/><rect x="117.4" y="475.1" width="4.4" height="4.4" fill="#000000"/><rect x="123.9" y="484.7" width="4.4" height="4.4" fill="#000000"/><rect x="130.5" y="492.4" width="4.4" height="4.4" fill="#000000"/><rect x="137" y="482.1" width="4.4" height="4.4" fill="#000000"/><rect x="143.5" y="472.2" width="4.4" height="4.4" fill="#000000"/><rect x="150" y="462.4" width="4.4" height="4.4" fill="#000000"/><rect x="156.5" y="473.8" width="4.4" height="4.4" fill="#000000"/><rect x="163" y="481.7" width="4.4" height="4.4" fill="#000000"/><rect x="169.5" y="485.8" width="4.4" height="4.4" fill="#000000"/><rect x="176" y="474.4" width="4.4" height="4.4" fill="#000000"/><rect x="182.5" y="467.2" width="4.4" height="4.4" fill="#000000"/><rect x="189.1" y="465.7" width="4.4" height="4.4" fill="#000000"/><rect x="195.6" y="469.6" width="4.4" height="4.4" fill="#000000"/><rect x="202.1" y="473.8" width="4.4" height="4.4" fill="#000000"/><rect x="208.6" y="471.2" width="4.4" height="4.4" fill="#000000"/><rect x="215.1" y="460.6" width="4.4" height="4.4" fill="#000000"/><rect x="221.6" y="418.6" width="4.4" height="4.4" fill="#000000"/><rect x="228.1" y="435.2" width="4.4" height="4.4" fill="#000000"/><rect x="234.6" y="437.6" width="4.4" height="4.4" fill="#000000"/><rect x="241.1" y="433.6" width="4.4" height="4.4" fill="#000000"/><rect x="247.6" y="424.5" width="4.4" height="4.4" fill="#000000"/><rect x="254.2" y="421.8" width="4.4" height="4.4" fill="#000000"/><rect x="260.7" y="417.8" width="4.4" height="4.4" fill="#000000"/><rect x="267.2" y="426.3" width="4.4" height="4.4" fill="#000000"/><rect x="273.7" y="421.1" width="4.4" height="4.4" fill="#000000"/><rect x="280.2" y="406.4" width="4.4" height="4.4" fill="#000000"/><rect x="286.7" y="386.2" width="4.4" height="4.4" fill="#000000"/><rect x="293.2" y="383.5" width="4.4" height="4.4" fill="#000000"/><rect x="299.7" y="400.5" width="4.4" height="4.4" fill="#000000"/><rect x="306.2" y="418" width="4.4" height="4.4" fill="#000000"/><rect x="312.7" y="414.1" width="4.4" height="4.4" fill="#000000"/><rect x="319.2" y="402.2" width="4.4" height="4.4" fill="#000000"/><rect x="325.8" y="395.1" width="4.4" height="4.4" fill="#000000"/><rect x="332.3" y="398" width="4.4" height="4.4" fill="#000000"/><rect x="338.8" y="402.8" width="4.4" height="4.4" fill="#000000"/><rect x="345.3" y="403.8" width="4.4" height="4.4" fill="#000000"/><rect x="351.8" y="401.3" width="4.4" height="4.4" fill="#000000"/>
<polyline points="96.4,435.7 106.9,429.6 117.9,432.2 129,432.4 140.2,436.8 151.4,443.4 162.1,445.3 173.1,446.6 184,448.6 195,448.3 205.9,447.5 217.3,447.6 228.3,447.2 239.1,446.8 250,445.7 261,443.9 271.9,441.7 282.9,438.5 294.3,436.5 295.6,436.5 295.6,456 297.1,456.6 300.4,458.4 303.7,451.8 306.3,448.5 308.7,444.6 311.3,438 314,427.1 316.8,416.1 319.7,403 322.3,391 324.9,378 327.5,370.8 330.6,363.4 333.2,373 335.9,382.4 338.7,387.9 341.3,390.5 344.2,394.9 346.4,401 349.3,405.5 352.2,410 355.1,414.2" fill="none" stroke="#ff0000" stroke-width="1.25" stroke-linejoin="round"/>
<circle cx="96.4" cy="435.7" r="2.85" fill="#ff0000"/><circle cx="106.9" cy="429.6" r="2.85" fill="#ff0000"/><circle cx="117.9" cy="432.2" r="2.85" fill="#ff0000"/><circle cx="129" cy="432.4" r="2.85" fill="#ff0000"/><circle cx="140.2" cy="436.8" r="2.85" fill="#ff0000"/><circle cx="151.4" cy="443.4" r="2.85" fill="#ff0000"/><circle cx="162.1" cy="445.3" r="2.85" fill="#ff0000"/><circle cx="173.1" cy="446.6" r="2.85" fill="#ff0000"/><circle cx="184" cy="448.6" r="2.85" fill="#ff0000"/><circle cx="195" cy="448.3" r="2.85" fill="#ff0000"/><circle cx="205.9" cy="447.5" r="2.85" fill="#ff0000"/><circle cx="217.3" cy="447.6" r="2.85" fill="#ff0000"/><circle cx="228.3" cy="447.2" r="2.85" fill="#ff0000"/><circle cx="239.1" cy="446.8" r="2.85" fill="#ff0000"/><circle cx="250" cy="445.7" r="2.85" fill="#ff0000"/><circle cx="261" cy="443.9" r="2.85" fill="#ff0000"/><circle cx="271.9" cy="441.7" r="2.85" fill="#ff0000"/><circle cx="282.9" cy="438.5" r="2.85" fill="#ff0000"/><circle cx="294.3" cy="436.5" r="2.85" fill="#ff0000"/><circle cx="297.1" cy="456.6" r="2.85" fill="#ff0000"/><circle cx="300.4" cy="458.4" r="2.85" fill="#ff0000"/><circle cx="303.7" cy="451.8" r="2.85" fill="#ff0000"/><circle cx="306.3" cy="448.5" r="2.85" fill="#ff0000"/><circle cx="308.7" cy="444.6" r="2.85" fill="#ff0000"/><circle cx="311.3" cy="438" r="2.85" fill="#ff0000"/><circle cx="314" cy="427.1" r="2.85" fill="#ff0000"/><circle cx="316.8" cy="416.1" r="2.85" fill="#ff0000"/><circle cx="319.7" cy="403" r="2.85" fill="#ff0000"/><circle cx="322.3" cy="391" r="2.85" fill="#ff0000"/><circle cx="324.9" cy="378" r="2.85" fill="#ff0000"/><circle cx="327.5" cy="370.8" r="2.85" fill="#ff0000"/><circle cx="330.6" cy="363.4" r="2.85" fill="#ff0000"/><circle cx="333.2" cy="373" r="2.85" fill="#ff0000"/><circle cx="335.9" cy="382.4" r="2.85" fill="#ff0000"/><circle cx="338.7" cy="387.9" r="2.85" fill="#ff0000"/><circle cx="341.3" cy="390.5" r="2.85" fill="#ff0000"/><circle cx="344.2" cy="394.9" r="2.85" fill="#ff0000"/><circle cx="346.4" cy="401" r="2.85" fill="#ff0000"/><circle cx="349.3" cy="405.5" r="2.85" fill="#ff0000"/><circle cx="352.2" cy="410" r="2.85" fill="#ff0000"/><circle cx="355.1" cy="414.2" r="2.85" fill="#ff0000"/>
<polyline points="93.6,463.5 100.1,455.7 106.6,446.9 113.1,442.7 119.6,445.4 126.1,457.8 132.7,465.5 139.2,453 145.7,440.3 152.2,430.7 158.7,446.5 165.2,456.3 171.7,459.6 178.2,446.9 184.7,439.9 191.2,440.3 197.8,446.5 204.3,451.5 210.8,448.6 217.3,436.6 221.9,429 221.9,397.5 223.8,399.5 230.3,405.6 236.8,400.6 243.3,389.8 249.8,379.3 256.4,382.2 262.9,379.8 269.4,397.3 272.4,403.8 275.9,392 282.4,373.9 288.9,347.4 292.1,334.9 295.4,350 301.9,378.2 308.4,405.3 310.7,409.5 314.9,404.9 321.4,391.1 328,384.1 334.5,392.9 341,404.5 347.5,408.8 354,414.8" fill="none" stroke="#8000ff" stroke-width="1.25" stroke-linejoin="round"/>
<polygon points="93.6,460 90.4,465.8 96.8,465.8" fill="#8000ff"/><polygon points="100.1,452.2 96.9,458 103.3,458" fill="#8000ff"/><polygon points="106.6,443.4 103.4,449.2 109.8,449.2" fill="#8000ff"/><polygon points="113.1,439.2 109.9,445 116.3,445" fill="#8000ff"/><polygon points="119.6,441.9 116.4,447.7 122.8,447.7" fill="#8000ff"/><polygon points="126.1,454.3 122.9,460.1 129.3,460.1" fill="#8000ff"/><polygon points="132.7,462 129.5,467.8 135.9,467.8" fill="#8000ff"/><polygon points="139.2,449.5 136,455.3 142.4,455.3" fill="#8000ff"/><polygon points="145.7,436.8 142.5,442.6 148.9,442.6" fill="#8000ff"/><polygon points="152.2,427.2 149,433 155.4,433" fill="#8000ff"/><polygon points="158.7,443 155.5,448.8 161.9,448.8" fill="#8000ff"/><polygon points="165.2,452.8 162,458.6 168.4,458.6" fill="#8000ff"/><polygon points="171.7,456.1 168.5,461.9 174.9,461.9" fill="#8000ff"/><polygon points="178.2,443.4 175,449.2 181.4,449.2" fill="#8000ff"/><polygon points="184.7,436.4 181.5,442.2 187.9,442.2" fill="#8000ff"/><polygon points="191.2,436.8 188.1,442.6 194.4,442.6" fill="#8000ff"/><polygon points="197.8,443 194.6,448.8 201,448.8" fill="#8000ff"/><polygon points="204.3,448 201.1,453.8 207.5,453.8" fill="#8000ff"/><polygon points="210.8,445.1 207.6,450.9 214,450.9" fill="#8000ff"/><polygon points="217.3,433.1 214.1,438.9 220.5,438.9" fill="#8000ff"/><polygon points="223.8,396 220.6,401.8 227,401.8" fill="#8000ff"/><polygon points="230.3,402.1 227.1,407.9 233.5,407.9" fill="#8000ff"/><polygon points="236.8,397.1 233.6,402.9 240,402.9" fill="#8000ff"/><polygon points="243.3,386.3 240.1,392.1 246.5,392.1" fill="#8000ff"/><polygon points="249.8,375.8 246.6,381.6 253,381.6" fill="#8000ff"/><polygon points="256.4,378.7 253.2,384.5 259.6,384.5" fill="#8000ff"/><polygon points="262.9,376.3 259.7,382.1 266.1,382.1" fill="#8000ff"/><polygon points="269.4,393.8 266.2,399.6 272.6,399.6" fill="#8000ff"/><polygon points="275.9,388.5 272.7,394.3 279.1,394.3" fill="#8000ff"/><polygon points="282.4,370.4 279.2,376.2 285.6,376.2" fill="#8000ff"/><polygon points="288.9,343.9 285.7,349.7 292.1,349.7" fill="#8000ff"/><polygon points="295.4,346.5 292.2,352.3 298.6,352.3" fill="#8000ff"/><polygon points="301.9,374.7 298.7,380.5 305.1,380.5" fill="#8000ff"/><polygon points="308.4,401.8 305.2,407.6 311.6,407.6" fill="#8000ff"/><polygon points="314.9,401.4 311.7,407.2 318.1,407.2" fill="#8000ff"/><polygon points="321.4,387.6 318.2,393.4 324.6,393.4" fill="#8000ff"/><polygon points="328,380.6 324.8,386.4 331.2,386.4" fill="#8000ff"/><polygon points="334.5,389.4 331.3,395.2 337.7,395.2" fill="#8000ff"/><polygon points="341,401 337.8,406.8 344.2,406.8" fill="#8000ff"/><polygon points="347.5,405.3 344.3,411.1 350.7,411.1" fill="#8000ff"/><polygon points="354,411.3 350.8,417.1 357.2,417.1" fill="#8000ff"/>
<polyline points="94.2,466 100.7,458.2 107.2,449.4 113.7,445.2 120.2,447.9 126.7,460.3 133.3,468 139.8,455.5 146.3,442.8 152.8,433.2 159.3,449 165.8,458.8 172.3,462.1 178.8,449.4 185.3,442.4 191.8,442.8 198.4,449 204.9,454 211.4,451.1 217.9,439.1 221.9,431.5 221.9,393.8 224.4,395.8 230.9,401.9 237.4,396.9 243.9,386.1 250.4,375.6 256.9,378.5 263.5,376.1 270,393.6 272.4,399.3 276.5,388.3 283,370.2 289.5,341.7 292.1,330.4 296,344.3 302.5,374.5 309,403 310.7,407.5 315.5,404.1 322,390.3 328.6,383.3 335.1,392.1 341.6,403.7 348.1,408 354.6,414" fill="none" stroke="#ff8000" stroke-width="1.25" stroke-linejoin="round"/>
<polygon points="94.2,462.5 97.2,466 94.2,469.5 91.2,466" fill="#ff8000"/><polygon points="100.7,454.7 103.7,458.2 100.7,461.7 97.7,458.2" fill="#ff8000"/><polygon points="107.2,445.9 110.2,449.4 107.2,452.9 104.2,449.4" fill="#ff8000"/><polygon points="113.7,441.7 116.7,445.2 113.7,448.7 110.7,445.2" fill="#ff8000"/><polygon points="120.2,444.4 123.2,447.9 120.2,451.4 117.2,447.9" fill="#ff8000"/><polygon points="126.7,456.8 129.8,460.3 126.7,463.8 123.7,460.3" fill="#ff8000"/><polygon points="133.3,464.5 136.3,468 133.3,471.5 130.3,468" fill="#ff8000"/><polygon points="139.8,452 142.8,455.5 139.8,459 136.8,455.5" fill="#ff8000"/><polygon points="146.3,439.3 149.3,442.8 146.3,446.3 143.3,442.8" fill="#ff8000"/><polygon points="152.8,429.7 155.8,433.2 152.8,436.7 149.8,433.2" fill="#ff8000"/><polygon points="159.3,445.5 162.3,449 159.3,452.5 156.3,449" fill="#ff8000"/><polygon points="165.8,455.3 168.8,458.8 165.8,462.3 162.8,458.8" fill="#ff8000"/><polygon points="172.3,458.6 175.3,462.1 172.3,465.6 169.3,462.1" fill="#ff8000"/><polygon points="178.8,445.9 181.8,449.4 178.8,452.9 175.8,449.4" fill="#ff8000"/><polygon points="185.3,438.9 188.3,442.4 185.3,445.9 182.3,442.4" fill="#ff8000"/><polygon points="191.8,439.3 194.8,442.8 191.8,446.3 188.8,442.8" fill="#ff8000"/><polygon points="198.4,445.5 201.4,449 198.4,452.5 195.4,449" fill="#ff8000"/><polygon points="204.9,450.5 207.9,454 204.9,457.5 201.9,454" fill="#ff8000"/><polygon points="211.4,447.6 214.4,451.1 211.4,454.6 208.4,451.1" fill="#ff8000"/><polygon points="217.9,435.6 220.9,439.1 217.9,442.6 214.9,439.1" fill="#ff8000"/><polygon points="224.4,392.3 227.4,395.8 224.4,399.3 221.4,395.8" fill="#ff8000"/><polygon points="230.9,398.4 233.9,401.9 230.9,405.4 227.9,401.9" fill="#ff8000"/><polygon points="237.4,393.4 240.4,396.9 237.4,400.4 234.4,396.9" fill="#ff8000"/><polygon points="243.9,382.6 246.9,386.1 243.9,389.6 240.9,386.1" fill="#ff8000"/><polygon points="250.4,372.1 253.4,375.6 250.4,379.1 247.4,375.6" fill="#ff8000"/><polygon points="256.9,375 259.9,378.5 256.9,382 253.9,378.5" fill="#ff8000"/><polygon points="263.5,372.6 266.5,376.1 263.5,379.6 260.5,376.1" fill="#ff8000"/><polygon points="270,390.1 273,393.6 270,397.1 267,393.6" fill="#ff8000"/><polygon points="276.5,384.8 279.5,388.3 276.5,391.8 273.5,388.3" fill="#ff8000"/><polygon points="283,366.7 286,370.2 283,373.7 280,370.2" fill="#ff8000"/><polygon points="289.5,338.2 292.5,341.7 289.5,345.2 286.5,341.7" fill="#ff8000"/><polygon points="296,340.8 299,344.3 296,347.8 293,344.3" fill="#ff8000"/><polygon points="302.5,371 305.5,374.5 302.5,378 299.5,374.5" fill="#ff8000"/><polygon points="309,399.5 312,403 309,406.5 306,403" fill="#ff8000"/><polygon points="315.5,400.6 318.5,404.1 315.5,407.6 312.5,404.1" fill="#ff8000"/><polygon points="322,386.8 325,390.3 322,393.8 319,390.3" fill="#ff8000"/><polygon points="328.6,379.8 331.6,383.3 328.6,386.8 325.6,383.3" fill="#ff8000"/><polygon points="335.1,388.6 338.1,392.1 335.1,395.6 332.1,392.1" fill="#ff8000"/><polygon points="341.6,400.2 344.6,403.7 341.6,407.2 338.6,403.7" fill="#ff8000"/><polygon points="348.1,404.5 351.1,408 348.1,411.5 345.1,408" fill="#ff8000"/><polygon points="354.6,410.5 357.6,414 354.6,417.5 351.6,414" fill="#ff8000"/>
<polyline points="93.6,468.5 100.1,460.7 106.6,451.9 113.1,447.7 119.6,450.4 126.1,462.8 132.7,470.5 139.2,458 145.7,445.3 152.2,435.7 158.7,451.5 165.2,461.3 171.7,464.6 178.2,451.9 184.7,444.9 191.2,445.3 197.8,451.5 204.3,456.5 210.8,453.6 217.3,441.6 221.9,434 221.9,394 223.8,396 230.3,402.1 236.8,397.1 243.3,386.3 249.8,375.8 256.4,378.7 262.9,376.3 269.4,393.8 272.4,398.8 275.9,388.5 282.4,370.4 288.9,341.9 292.1,329.9 295.4,344.5 301.9,374.7 308.4,403.2 310.7,408 314.9,404.3 321.4,390.5 328,383.5 334.5,392.3 341,403.9 347.5,408.2 354,414.2" fill="none" stroke="#008080" stroke-width="1.25" stroke-linejoin="round"/>
<polygon points="93.6,465.4 96.5,467.6 95.4,471 91.8,471 90.7,467.6" fill="#008080"/><polygon points="100.1,457.6 103,459.8 101.9,463.2 98.3,463.2 97.2,459.8" fill="#008080"/><polygon points="106.6,448.8 109.5,451 108.4,454.4 104.8,454.4 103.7,451" fill="#008080"/><polygon points="113.1,444.6 116,446.8 114.9,450.2 111.3,450.2 110.2,446.8" fill="#008080"/><polygon points="119.6,447.3 122.5,449.5 121.4,452.9 117.8,452.9 116.7,449.5" fill="#008080"/><polygon points="126.1,459.8 129.1,461.9 127.9,465.3 124.4,465.3 123.2,461.9" fill="#008080"/><polygon points="132.7,467.4 135.6,469.6 134.5,473 130.9,473 129.8,469.6" fill="#008080"/><polygon points="139.2,454.9 142.1,457.1 141,460.5 137.4,460.5 136.3,457.1" fill="#008080"/><polygon points="145.7,442.2 148.6,444.4 147.5,447.8 143.9,447.8 142.8,444.4" fill="#008080"/><polygon points="152.2,432.6 155.1,434.8 154,438.2 150.4,438.2 149.3,434.8" fill="#008080"/><polygon points="158.7,448.4 161.6,450.6 160.5,454 156.9,454 155.8,450.6" fill="#008080"/><polygon points="165.2,458.2 168.1,460.4 167,463.8 163.4,463.8 162.3,460.4" fill="#008080"/><polygon points="171.7,461.6 174.6,463.7 173.5,467.1 169.9,467.1 168.8,463.7" fill="#008080"/><polygon points="178.2,448.8 181.1,451 180,454.4 176.4,454.4 175.3,451" fill="#008080"/><polygon points="184.7,441.8 187.6,444 186.5,447.4 182.9,447.4 181.8,444" fill="#008080"/><polygon points="191.2,442.2 194.2,444.4 193,447.8 189.5,447.8 188.3,444.4" fill="#008080"/><polygon points="197.8,448.4 200.7,450.6 199.6,454 196,454 194.9,450.6" fill="#008080"/><polygon points="204.3,453.4 207.2,455.6 206.1,459 202.5,459 201.4,455.6" fill="#008080"/><polygon points="210.8,450.6 213.7,452.7 212.6,456.1 209,456.1 207.9,452.7" fill="#008080"/><polygon points="217.3,438.6 220.2,440.7 219.1,444.1 215.5,444.1 214.4,440.7" fill="#008080"/><polygon points="223.8,392.9 226.7,395.1 225.6,398.5 222,398.5 220.9,395.1" fill="#008080"/><polygon points="230.3,399.1 233.2,401.2 232.1,404.6 228.5,404.6 227.4,401.2" fill="#008080"/><polygon points="236.8,394.1 239.7,396.2 238.6,399.6 235,399.6 233.9,396.2" fill="#008080"/><polygon points="243.3,383.2 246.2,385.4 245.1,388.8 241.5,388.8 240.4,385.4" fill="#008080"/><polygon points="249.8,372.8 252.7,374.9 251.6,378.3 248,378.3 246.9,374.9" fill="#008080"/><polygon points="256.4,375.6 259.3,377.8 258.1,381.2 254.6,381.2 253.4,377.8" fill="#008080"/><polygon points="262.9,373.2 265.8,375.4 264.7,378.8 261.1,378.8 260,375.4" fill="#008080"/><polygon points="269.4,390.8 272.3,392.9 271.2,396.3 267.6,396.3 266.5,392.9" fill="#008080"/><polygon points="275.9,385.4 278.8,387.6 277.7,391 274.1,391 273,387.6" fill="#008080"/><polygon points="282.4,367.3 285.3,369.5 284.2,372.9 280.6,372.9 279.5,369.5" fill="#008080"/><polygon points="288.9,338.8 291.8,341 290.7,344.4 287.1,344.4 286,341" fill="#008080"/><polygon points="295.4,341.4 298.3,343.6 297.2,347 293.6,347 292.5,343.6" fill="#008080"/><polygon points="301.9,371.6 304.8,373.8 303.7,377.2 300.1,377.2 299,373.8" fill="#008080"/><polygon points="308.4,400.1 311.3,402.3 310.2,405.7 306.6,405.7 305.5,402.3" fill="#008080"/><polygon points="314.9,401.2 317.8,403.4 316.7,406.8 313.1,406.8 312,403.4" fill="#008080"/><polygon points="321.4,387.4 324.4,389.6 323.2,393 319.7,393 318.5,389.6" fill="#008080"/><polygon points="328,380.4 330.9,382.6 329.8,386 326.2,386 325.1,382.6" fill="#008080"/><polygon points="334.5,389.2 337.4,391.4 336.3,394.8 332.7,394.8 331.6,391.4" fill="#008080"/><polygon points="341,400.8 343.9,403 342.8,406.4 339.2,406.4 338.1,403" fill="#008080"/><polygon points="347.5,405.1 350.4,407.3 349.3,410.7 345.7,410.7 344.6,407.3" fill="#008080"/><polygon points="354,411.1 356.9,413.3 355.8,416.7 352.2,416.7 351.1,413.3" fill="#008080"/>
<rect x="69.2" y="289.8" width="303.9" height="245" fill="none" stroke="#000" stroke-width="1.4"/>
<path d="M99.6,534.8v-4.5M160.4,534.8v-4.5M221.2,534.8v-4.5M281.9,534.8v-4.5M342.7,534.8v-4.5M130,534.8v-2.5M190.8,534.8v-2.5M251.5,534.8v-2.5M312.3,534.8v-2.5M69.2,289.8h4.5M69.2,351h4.5M69.2,412.3h4.5M69.2,473.5h4.5M69.2,534.8h4.5M69.2,320.4h2.5M69.2,381.7h2.5M69.2,442.9h2.5M69.2,504.2h2.5" stroke="#000" stroke-width="1.2" fill="none"/>
<text x="99.6" y="548.2" text-anchor="middle" class="tk" font-size="10.9">-0.2</text>
<text x="160.4" y="548.2" text-anchor="middle" class="tk" font-size="10.9">-0.1</text>
<text x="221.2" y="548.2" text-anchor="middle" class="tk" font-size="10.9">0.0</text>
<text x="281.9" y="548.2" text-anchor="middle" class="tk" font-size="10.9">0.1</text>
<text x="342.7" y="548.2" text-anchor="middle" class="tk" font-size="10.9">0.2</text>
<text x="64.3" y="293.7" text-anchor="end" class="tk" font-size="10.9">20000</text>
<text x="64.3" y="354.9" text-anchor="end" class="tk" font-size="10.9">15000</text>
<text x="64.3" y="416.2" text-anchor="end" class="tk" font-size="10.9">10000</text>
<text x="64.3" y="477.4" text-anchor="end" class="tk" font-size="10.9">5000</text>
<text x="64.3" y="538.7" text-anchor="end" class="tk" font-size="10.9">0</text>
<line x1="118.8" y1="307.4" x2="141.5" y2="307.4" stroke="#000000" stroke-width="1.25"/>
<rect x="127.2" y="305.9" width="6" height="3" fill="#fff"/>
<rect x="128" y="305.2" width="4.4" height="4.4" fill="#000000"/>
<text x="145.6" y="311.4" class="lg" font-size="11.2">(<tspan class="bi">K</tspan><tspan font-size="7.2" dy="2.6">s</tspan><tspan dy="-2.6">=0)</tspan></text>
<line x1="118.8" y1="323.5" x2="141.5" y2="323.5" stroke="#ff0000" stroke-width="1.25"/>
<circle cx="130.2" cy="323.5" r="2.85" fill="#ff0000"/>
<text x="145.6" y="327.5" class="lg" font-size="11.2">(<tspan class="bi">K</tspan><tspan font-size="7.2" dy="2.6">s</tspan><tspan dy="-2.6">=0.6)</tspan></text>
<line x1="118.8" y1="338.9" x2="141.5" y2="338.9" stroke="#8000ff" stroke-width="1.25"/>
<polygon points="130.2,335.4 127,341.2 133.3,341.2" fill="#8000ff"/>
<text x="145.6" y="342.9" class="lg" font-size="11.2">(<tspan class="bi">K</tspan><tspan font-size="7.2" dy="2.6">s</tspan><tspan dy="-2.6">=2)</tspan></text>
<line x1="118.8" y1="355.8" x2="141.5" y2="355.8" stroke="#ff8000" stroke-width="1.25"/>
<polygon points="130.2,352.3 133.2,355.8 130.2,359.3 127.2,355.8" fill="#ff8000"/>
<text x="145.6" y="359.8" class="lg" font-size="11.2">(<tspan class="bi">K</tspan><tspan font-size="7.2" dy="2.6">s</tspan><tspan dy="-2.6">=10)</tspan></text>
<line x1="118.8" y1="371.8" x2="141.5" y2="371.8" stroke="#008080" stroke-width="1.25"/>
<polygon points="130.2,368.8 133.1,370.9 131.9,374.3 128.4,374.3 127.2,370.9" fill="#008080"/>
<text x="145.6" y="375.8" class="lg" font-size="11.2">(<tspan class="bi">K</tspan><tspan font-size="7.2" dy="2.6">s</tspan><tspan dy="-2.6">=40)</tspan></text>
<text x="203.2" y="555.6" class="bi" font-size="11.7"><tspan>y/R</tspan><tspan class="lg" font-style="normal" font-size="8.3" dx="0.8" dy="3.2">max</tspan></text>
<text transform="translate(35.8,479) rotate(-90)" class="yt" font-size="11.7" textLength="135" lengthAdjust="spacingAndGlyphs">Turbulent dissipation rate</text>
<text x="-1.2" y="310.8" class="pl">(c)</text>
</svg></body></html>
